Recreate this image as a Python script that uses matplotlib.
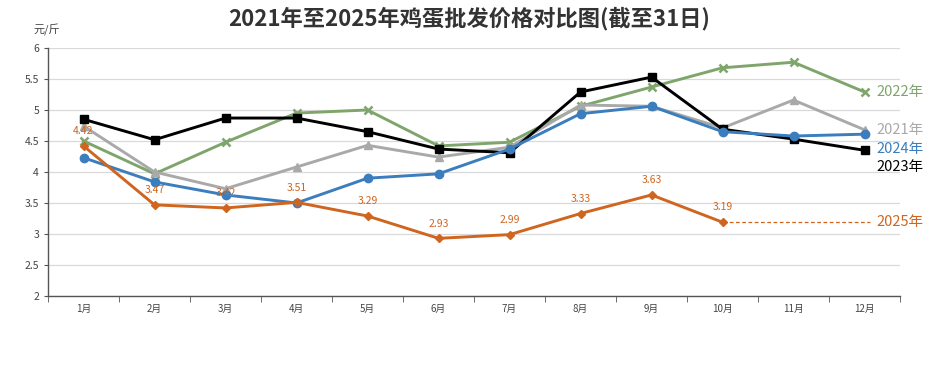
import numpy as np
import matplotlib.pyplot as plt
from matplotlib.ticker import FixedLocator, FormatStrFormatter

plt.rcParams['font.family'] = ['Noto Sans CJK SC', 'DejaVu Sans']

months = ["1月", "2月", "3月", "4月", "5月", "6月", "7月", "8月", "9月", "10月", "11月", "12月"]

y2021 = [4.74, 4.00, 3.73, 4.08, 4.43, 4.24, 4.40, 5.08, 5.06, 4.71, 5.16, 4.68]
y2022 = [4.50, 3.97, 4.48, 4.95, 5.00, 4.42, 4.48, 5.06, 5.37, 5.68, 5.77, 5.29]
y2023 = [4.85, 4.52, 4.87, 4.87, 4.65, 4.37, 4.31, 5.29, 5.53, 4.69, 4.53, 4.35]
y2024 = [4.23, 3.84, 3.63, 3.50, 3.90, 3.97, 4.37, 4.94, 5.06, 4.65, 4.58, 4.61]
y2025 = [4.42, 3.47, 3.42, 3.51, 3.29, 2.93, 2.99, 3.33, 3.63, 3.19]

c2021 = "#a9a9a9"
c2022 = "#7fa56c"
c2023 = "#000000"
c2024 = "#3b7dbd"
c2025 = "#cf651f"

fig = plt.figure(figsize=(9.38, 3.9), dpi=100)
ax = fig.add_axes([0.0512, 0.241, 0.9083, 0.636])

x = np.arange(len(months))
lw = 2.1
ax.plot(x, y2022, color=c2022, lw=lw, marker="x", ms=6, mew=1.8, zorder=3)
ax.plot(x, y2021, color=c2021, lw=lw, marker="^", ms=6, zorder=3)
ax.plot(x, y2023, color=c2023, lw=lw, marker="s", ms=6, zorder=4)
ax.plot(x, y2024, color=c2024, lw=lw, marker="o", ms=6, zorder=5)
x25 = np.arange(len(y2025))
ax.plot(x25, y2025, color=c2025, lw=lw, marker="D", ms=4.5, zorder=6)
ax.plot([x25[-1], 11.08], [y2025[-1], y2025[-1]], color=c2025, lw=0.9, ls=(0, (3, 2)), zorder=2)

for xi, v in zip(x25, y2025):
    ax.annotate(f"{v:.2f}", (xi, v), xytext=(0, 7), textcoords="offset points",
                ha="center", va="bottom", fontsize=7.5, color=c2025, zorder=7)

labels = [("2022年", y2022[-1], c2022), ("2021年", 4.67, c2021),
          ("2024年", 4.37, c2024), ("2023年", 4.08, c2023), ("2025年", y2025[-1], c2025)]
for txt, yv, col in labels:
    ax.text(11.17, yv, txt, color=col, fontsize=10.5, va="center", ha="left")

ax.set_xlim(-0.5, 11.5)
ax.set_ylim(2, 6)
ax.set_xticks(x)
ax.set_xticklabels(months, fontsize=7, color="#444444")
ax.xaxis.set_minor_locator(FixedLocator(np.arange(-0.5, 12, 1)))
ax.tick_params(axis="x", which="major", length=0, pad=6)
ax.tick_params(axis="x", which="minor", length=4, color="#555555")
ax.set_yticks(np.arange(2, 6.01, 0.5))
ax.yaxis.set_major_formatter(FormatStrFormatter("%g"))
ax.tick_params(axis="y", labelsize=7.5, labelcolor="#444444", length=3, color="#555555")
ax.grid(axis="y", color="#d9d9d9", lw=0.9)
ax.set_axisbelow(True)
for s in ["top", "right"]:
    ax.spines[s].set_visible(False)
for s in ["left", "bottom"]:
    ax.spines[s].set_color("#555555")
    ax.spines[s].set_linewidth(1.0)

fig.text(0.5, 0.953, "2021年至2025年鸡蛋批发价格对比图(截至31日)", ha="center", va="center",
         fontsize=16, fontweight="bold", color="#333333")
fig.text(0.036, 0.922, "元/斤", fontsize=8, color="#444444", ha="left", va="center")

fig.savefig("out.png", dpi=100, facecolor="white")
